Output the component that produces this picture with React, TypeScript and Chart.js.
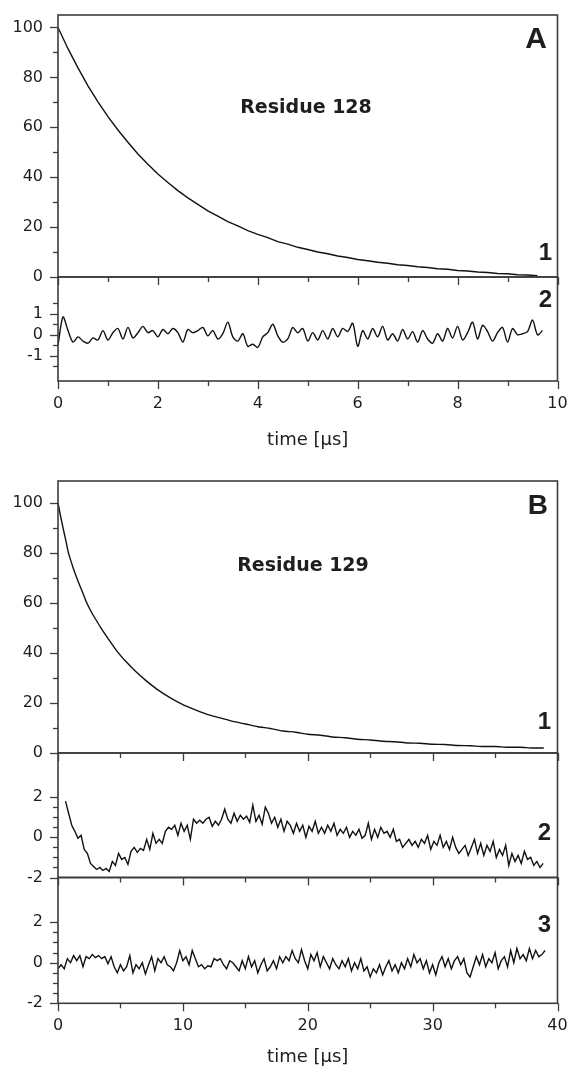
import React, { useEffect, useRef } from 'react';
import { Chart, registerables } from 'chart.js';

Chart.register(...registerables);

const W = 571;
const H = 1069;

// ---------------- Panel A (Residue 128) ----------------
const decayAStart = 0;
const decayAStep = 0.2;
const decayAValues = [
  100, 91.5, 83.8, 76.6, 70.2, 64.3, 58.9, 54.0, 49.3, 45.2, 41.3, 37.9, 34.6, 31.7, 29.1, 26.5,
  24.4, 22.2, 20.5, 18.6, 17.1, 15.8, 14.2, 13.2, 11.9, 11.0, 10.0, 9.3, 8.4, 7.8, 7.0, 6.5, 5.9,
  5.5, 4.9, 4.6, 4.1, 3.8, 3.3, 3.1, 2.6, 2.4, 2.0, 1.8, 1.4, 1.3, 0.9, 0.8, 0.5,
];

const resAStart = 0;
const resAStep = 0.1;
const resAValues = [
  -0.5, 0.85, 0.2, -0.35, -0.1, -0.3, -0.4, -0.15, -0.25, 0.2, -0.25, 0.1, 0.3, -0.2, 0.35, -0.15,
  0.1, 0.4, 0.1, 0.2, -0.1, 0.25, 0.05, 0.3, 0.1, -0.35, 0.25, 0.1, 0.2, 0.35, -0.05, 0.2, -0.2,
  0.05, 0.6, -0.1, -0.3, 0.05, -0.55, -0.45, -0.6, -0.1, 0.1, 0.5, -0.05, -0.35, -0.2, 0.35, 0.1,
  0.3, -0.3, 0.1, -0.25, 0.2, -0.2, 0.3, -0.1, 0.3, 0.15, 0.55, -0.55, 0.2, -0.2, 0.3, -0.1, 0.4,
  -0.25, 0.05, -0.3, 0.25, -0.2, 0.15, -0.35, 0.2, -0.2, -0.4, 0.05, -0.3, 0.3, -0.15, 0.4, -0.25,
  0.1, 0.6, -0.2, 0.45, 0.15, -0.3, 0.1, 0.35, -0.35, 0.3, 0.0, 0.05, 0.15, 0.7, 0.0, 0.2,
];

// ---------------- Panel B (Residue 129) ----------------
const decayBTimes = [
  0, 0.15, 0.3, 0.45, 0.6, 0.83, 1.0, 1.25, 1.5, 1.75, 2.0, 2.3, 2.65, 3.0, 3.5, 4.0, 4.75, 5.5,
  6.25, 7.0, 8.0, 9.0, 10, 11, 12, 13, 14, 15, 16, 17, 18, 19, 20, 21, 22, 23, 24, 25, 26, 27, 28,
  29, 30, 31, 32, 33, 34, 35, 36, 37, 38, 38.9,
];
const decayBValues = [
  100, 96, 92.3, 88.8, 85.5, 80, 77.2, 73.4, 70, 66.8, 63.8, 60, 56.5, 53.5, 49.5, 45.8, 40.5,
  36.2, 32.4, 29.1, 25.2, 22.0, 19.3, 17.2, 15.3, 14.0, 12.6, 11.6, 10.5, 9.8, 8.8, 8.3, 7.5, 7.1,
  6.4, 6.1, 5.5, 5.2, 4.7, 4.5, 4.0, 3.9, 3.5, 3.4, 3.0, 2.9, 2.6, 2.6, 2.3, 2.3, 2.0, 2.0,
];

const resB2Start = 0.6;
const resB2Step = 0.25;
const resB2Values = [
  1.8, 1.2, 0.6, 0.3, -0.05, 0.1, -0.6, -0.8, -1.3, -1.45, -1.6, -1.5, -1.65, -1.55, -1.7, -1.2,
  -1.4, -0.8, -1.1, -1.0, -1.35, -0.7, -0.5, -0.75, -0.55, -0.65, -0.1, -0.6, 0.2, -0.3, -0.1,
  -0.3, 0.3, 0.5, 0.4, 0.6, 0.1, 0.7, 0.3, 0.6, -0.1, 0.9, 0.7, 0.85, 0.7, 0.9, 1.0, 0.55, 0.8,
  0.6, 0.9, 1.4, 0.9, 0.7, 1.2, 0.8, 1.1, 0.9, 1.05, 0.75, 1.6, 0.8, 1.1, 0.65, 1.5, 1.2, 0.7,
  1.0, 0.5, 0.9, 0.3, 0.8, 0.6, 0.2, 0.7, 0.3, 0.6, 0.0, 0.55, 0.3, 0.8, 0.2, 0.5, 0.2, 0.6, 0.3,
  0.7, 0.1, 0.4, 0.2, 0.5, 0.0, 0.3, 0.1, 0.4, -0.05, 0.1, 0.7, -0.1, 0.4, 0.0, 0.5, 0.2, 0.3,
  0.0, 0.4, -0.2, -0.1, -0.5, -0.3, -0.1, -0.4, -0.2, -0.5, -0.1, -0.3, 0.1, -0.6, -0.2, -0.4,
  0.1, -0.5, -0.2, -0.6, 0.0, -0.5, -0.8, -0.6, -0.4, -0.9, -0.5, -0.1, -0.8, -0.3, -0.9, -0.4,
  -0.7, -0.2, -1.0, -0.6, -0.9, -0.4, -1.4, -0.8, -1.2, -0.9, -1.3, -0.7, -1.1, -1.0, -1.4, -1.2,
  -1.5, -1.3,
];

const resB3Start = 0;
const resB3Step = 0.25;
const resB3Values = [
  -0.3, -0.1, -0.3, 0.2, 0.0, 0.35, 0.1, 0.35, -0.2, 0.3, 0.2, 0.4, 0.25, 0.35, 0.2, 0.3, -0.05,
  0.3, -0.2, -0.5, -0.1, -0.4, -0.2, 0.35, -0.5, -0.1, -0.3, 0.0, -0.55, -0.1, 0.3, -0.4, 0.2, 0.0,
  0.3, -0.1, -0.2, -0.4, 0.0, 0.6, 0.1, 0.3, -0.1, 0.6, 0.2, -0.2, -0.1, -0.3, -0.15, -0.2, 0.2,
  0.1, 0.2, -0.1, -0.3, 0.1, 0.0, -0.2, -0.4, 0.1, -0.3, 0.3, -0.2, 0.1, -0.5, -0.1, 0.2, -0.4,
  -0.2, 0.1, -0.3, 0.3, 0.0, 0.3, 0.1, 0.6, 0.2, 0.0, 0.65, 0.1, -0.3, 0.4, 0.1, 0.5, -0.2, 0.3,
  0.0, -0.3, 0.2, -0.1, -0.3, 0.1, -0.2, 0.2, -0.4, 0.0, -0.3, 0.2, -0.4, -0.2, -0.7, -0.3, -0.5,
  -0.1, -0.6, -0.2, 0.1, -0.4, -0.1, -0.5, 0.0, -0.3, 0.2, -0.2, 0.4, 0.0, 0.2, -0.3, 0.1, -0.5,
  -0.1, -0.6, 0.0, 0.3, -0.2, 0.2, -0.3, 0.1, 0.3, -0.1, 0.2, -0.5, -0.7, -0.2, 0.3, -0.1, 0.4,
  -0.2, 0.2, 0.0, 0.5, -0.3, 0.1, 0.3, -0.2, 0.6, 0.0, 0.7, 0.2, 0.4, 0.1, 0.7, 0.2, 0.6, 0.3,
  0.4, 0.6,
];

// ---------------- tick labels ----------------
const yTicksMain = [0, 20, 40, 60, 80, 100];
const yTicksResA = [-1, 0, 1];
const yTicksResB = [-2, 0, 2];
const xTicksA = [0, 2, 4, 6, 8, 10];
const xTicksB = [0, 10, 20, 30, 40];
const xTitle = 'time [μs]';

const LINE = '#111111';
const AXIS = '#3c3c3c';
const TEXT = '#1e1e1e';
const TICK_FONT = { family: 'DejaVu Sans', size: 16 };

const uniform = (start: number, step: number, vals: number[]) =>
  vals.map((v, i) => ({ x: Math.round((start + i * step) * 1000) / 1000, y: v }));
const paired = (ts: number[], vals: number[]) => vals.map((v, i) => ({ x: ts[i], y: v }));

type Txt = { t: string; x: number; y: number; font: string; align: CanvasTextAlign };
type Panel = {
  key: string;
  area: { l: number; t: number; r: number; b: number };
  xRange: [number, number];
  xMinor: number;
  xMajor: number;
  xLabels: number[] | null;
  xAxisH: number;
  yRange: [number, number];
  yLabels: number[];
  yMinor: number;
  yMajor: number;
  yTickRange: [number, number];
  data: { x: number; y: number }[];
  tension: number;
  texts: Txt[];
};

const BOLD_BIG = (s: number) => `bold ${s}px "Liberation Sans", Arial, sans-serif`;
const RES_FONT = 'bold 19px "DejaVu Sans", sans-serif';

const PANELS: Panel[] = [
  {
    key: 'A1',
    area: { l: 58, t: 15, r: 557.5, b: 277 },
    xRange: [0, 10], xMinor: 1, xMajor: 2, xLabels: null, xAxisH: 0,
    yRange: [0, 105], yLabels: yTicksMain, yMinor: 10, yMajor: 20, yTickRange: [0, 100],
    data: uniform(decayAStart, decayAStep, decayAValues), tension: 0,
    texts: [
      { t: 'A', x: 547, y: 40, font: BOLD_BIG(30), align: 'right' },
      { t: 'Residue 128', x: 306, y: 108, font: RES_FONT, align: 'center' },
      { t: '1', x: 552, y: 253, font: BOLD_BIG(24), align: 'right' },
    ],
  },
  {
    key: 'A2',
    area: { l: 58, t: 277, r: 557.5, b: 381 },
    xRange: [0, 10], xMinor: 1, xMajor: 2, xLabels: xTicksA, xAxisH: 70,
    yRange: [-2.2, 2.75], yLabels: yTicksResA, yMinor: 0.5, yMajor: 1, yTickRange: [-1.5, 1.5],
    data: uniform(resAStart, resAStep, resAValues), tension: 0.3,
    texts: [{ t: '2', x: 552, y: 300, font: BOLD_BIG(24), align: 'right' }],
  },
  {
    key: 'B1',
    area: { l: 58, t: 481, r: 557.5, b: 753 },
    xRange: [0, 40], xMinor: 5, xMajor: 10, xLabels: null, xAxisH: 0,
    yRange: [0, 108.6], yLabels: yTicksMain, yMinor: 10, yMajor: 20, yTickRange: [0, 100],
    data: paired(decayBTimes, decayBValues), tension: 0.2,
    texts: [
      { t: 'B', x: 548, y: 506, font: BOLD_BIG(28), align: 'right' },
      { t: 'Residue 129', x: 303, y: 566, font: RES_FONT, align: 'center' },
      { t: '1', x: 551, y: 722, font: BOLD_BIG(24), align: 'right' },
    ],
  },
  {
    key: 'B2',
    area: { l: 58, t: 753, r: 557.5, b: 877.5 },
    xRange: [0, 40], xMinor: 5, xMajor: 10, xLabels: null, xAxisH: 0,
    yRange: [-2, 4.2], yLabels: yTicksResB, yMinor: 0.5, yMajor: 2, yTickRange: [-2, 2],
    data: uniform(resB2Start, resB2Step, resB2Values), tension: 0,
    texts: [{ t: '2', x: 551, y: 833, font: BOLD_BIG(24), align: 'right' }],
  },
  {
    key: 'B3',
    area: { l: 58, t: 877.5, r: 557.5, b: 1003.3 },
    xRange: [0, 40], xMinor: 5, xMajor: 10, xLabels: xTicksB, xAxisH: 64.5,
    yRange: [-2, 4.2], yLabels: yTicksResB, yMinor: 0.5, yMajor: 2, yTickRange: [-2, 2],
    data: uniform(resB3Start, resB3Step, resB3Values), tension: 0,
    texts: [{ t: '3', x: 551, y: 925, font: BOLD_BIG(24), align: 'right' }],
  },
];

function isMult(v: number, step: number) {
  const q = v / step;
  return Math.abs(q - Math.round(q)) < 1e-6;
}

function makeChart(canvas: HTMLCanvasElement, p: Panel) {
  const decor = {
    id: 'decor' + p.key,
    afterDraw(chart: any) {
      const { ctx, chartArea: a, scales } = chart;
      const xs = scales.x;
      const ys = scales.y;
      ctx.save();
      ctx.strokeStyle = AXIS;
      ctx.lineWidth = 1.6;
      ctx.strokeRect(a.left, a.top, a.right - a.left, a.bottom - a.top);
      ctx.lineWidth = 1.3;
      // y ticks (outward, left)
      const ny = Math.round((p.yTickRange[1] - p.yTickRange[0]) / p.yMinor);
      for (let i = 0; i <= ny; i++) {
        const v = p.yTickRange[0] + i * p.yMinor;
        const len = isMult(v, p.yMajor) ? 8 : 5;
        const py = Math.round(ys.getPixelForValue(v)) + 0.5;
        ctx.beginPath();
        ctx.moveTo(a.left - len, py);
        ctx.lineTo(a.left, py);
        ctx.stroke();
      }
      // x ticks (outward, down)
      const nx = Math.round((p.xRange[1] - p.xRange[0]) / p.xMinor);
      for (let i = 0; i <= nx; i++) {
        const v = p.xRange[0] + i * p.xMinor;
        const len = isMult(v, p.xMajor) ? 8 : 5;
        const px = Math.round(xs.getPixelForValue(v)) + 0.5;
        ctx.beginPath();
        ctx.moveTo(px, a.bottom);
        ctx.lineTo(px, a.bottom + len);
        ctx.stroke();
      }
      // annotations
      ctx.fillStyle = TEXT;
      ctx.textBaseline = 'middle';
      for (const t of p.texts) {
        ctx.font = t.font;
        ctx.textAlign = t.align;
        ctx.fillText(t.t, t.x, t.y);
      }
      ctx.restore();
    },
  };

  const showX = !!p.xLabels;
  return new Chart(canvas, {
    type: 'line',
    data: {
      datasets: [
        {
          data: p.data,
          borderColor: LINE,
          borderWidth: 1.4,
          pointRadius: 0,
          tension: p.tension,
          fill: false,
        },
      ],
    },
    options: {
      animation: false,
      responsive: false,
      devicePixelRatio: 1,
      events: [],
      layout: {
        padding: {
          left: 0,
          top: p.area.t,
          right: W - p.area.r,
          bottom: H - p.area.b - p.xAxisH,
        },
      },
      plugins: { legend: { display: false }, tooltip: { enabled: false }, title: { display: false } },
      scales: {
        x: {
          type: 'linear',
          display: showX,
          min: p.xRange[0],
          max: p.xRange[1],
          grid: { display: false, drawTicks: false },
          border: { display: false },
          afterBuildTicks: (s: any) => {
            if (p.xLabels) s.ticks = p.xLabels.map((v) => ({ value: v }));
          },
          afterFit: (s: any) => {
            s.height = p.xAxisH;
            s.paddingLeft = 0;
            s.paddingRight = 0;
          },
          ticks: {
            font: TICK_FONT,
            color: TEXT,
            padding: 13,
            maxRotation: 0,
            autoSkip: false,
            includeBounds: false,
          },
          title: {
            display: showX,
            text: xTitle,
            font: { family: 'DejaVu Sans', size: 18 },
            color: TEXT,
            padding: 0,
          },
        },
        y: {
          type: 'linear',
          min: p.yRange[0],
          max: p.yRange[1],
          grid: { display: false, drawTicks: false },
          border: { display: false },
          afterBuildTicks: (s: any) => {
            s.ticks = p.yLabels.map((v) => ({ value: v }));
          },
          afterFit: (s: any) => {
            s.width = p.area.l;
            s.paddingTop = 0;
            s.paddingBottom = 0;
          },
          ticks: {
            font: TICK_FONT,
            color: TEXT,
            padding: 15,
            autoSkip: false,
            includeBounds: false,
          },
        },
      },
    },
    plugins: [decor],
  } as any);
}

export default function App() {
  const refs = useRef<(HTMLCanvasElement | null)[]>([]);
  useEffect(() => {
    const charts = PANELS.map((p, i) => makeChart(refs.current[i] as HTMLCanvasElement, p));
    return () => charts.forEach((c) => c.destroy());
  }, []);
  return (
    <div style={{ position: 'absolute', left: 0, top: 0, width: W, height: H, background: '#fff' }}>
      {PANELS.map((p, i) => (
        <canvas
          key={p.key}
          ref={(el) => {
            refs.current[i] = el;
          }}
          width={W}
          height={H}
          style={{ position: 'absolute', left: 0, top: 0, width: W, height: H }}
        />
      ))}
    </div>
  );
}
